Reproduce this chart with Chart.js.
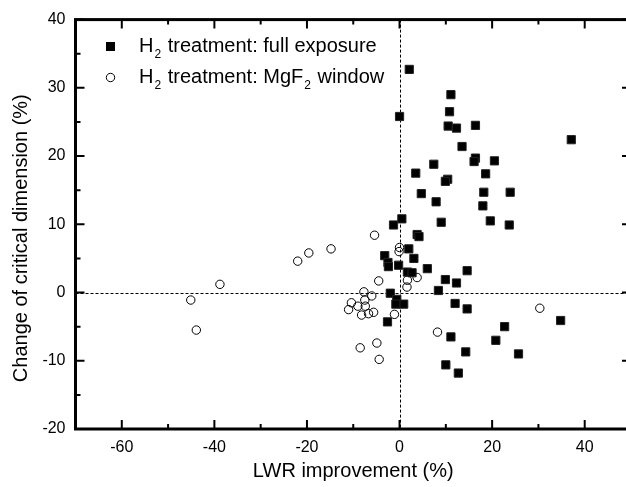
<!DOCTYPE html>
<html>
<head>
<meta charset="utf-8">
<script src="https://cdn.jsdelivr.net/npm/chart.js@4.4.0/dist/chart.umd.min.js"></script>
<style>
    html, body { margin: 0; padding: 0; background: #fff; overflow: hidden; }
    #quadro { width: 626px; height: 487px; overflow: hidden; }
</style>
</head>
<body>
<div id="quadro"><canvas id="lwrChart" width="640" height="487"></canvas></div>
<script>
// --- Dados ---
// Tratamento H2: exposição completa (quadrados cheios)
const fullExposureX = [2.1, 11.1, 10.8, 0.0, 10.5, 12.3, 16.4, 37.1, 13.5, 16.4, 16.1, 20.5, 7.4, 3.5, 18.6,
    10.4, 9.9, 4.7, 18.2, 23.9, 7.9, 18.0, 0.5, -1.3, 9.0, 19.6, 23.7, 3.8, 4.2, 2.0,
    3.1, -3.2, -2.5, -2.4, -0.2, 1.7, 2.7, 6.0, 14.6, 9.9, 12.3, 8.4, -2.0, -0.6, 0.9,
    -0.8, -2.6, 12.0, 14.6, 34.8, 22.7, 11.1, 20.8, 14.3, 25.7, 10.0, 12.7];
const fullExposureY = [32.7, 29.0, 26.5, 25.8, 24.4, 24.1, 24.5, 22.4, 21.4, 19.7, 19.2, 19.3, 18.8, 17.5, 17.4,
    16.6, 16.3, 14.5, 14.7, 14.7, 13.3, 12.7, 10.8, 9.9, 10.3, 10.5, 9.9, 8.5, 8.2, 6.4,
    5.0, 5.4, 4.4, 3.8, 4.0, 3.0, 2.9, 3.5, 3.2, 1.9, 1.4, 0.3, -0.1, -1.0, -1.7,
    -1.7, -4.3, -1.6, -2.4, -4.1, -5.0, -6.5, -7.0, -8.7, -9.0, -10.6, -11.8];

// Tratamento H2: janela de MgF2 (círculos abertos)
const mgf2X = [-45.1, -43.9, -38.8, -22.0, -19.6, -14.8, -5.4, 0.0, -0.1, 1.7, 1.6, 3.8, -4.5, -7.7,
    -6.0, -10.4, -7.5, -9.0, -7.4, -11.0, -8.2, -6.7, -5.6, -1.1, -4.9, -8.5, -4.4, 30.3, 8.2];
const mgf2Y = [-1.1, -5.5, 1.2, 4.6, 5.8, 6.4, 8.4, 6.6, 6.0, 1.8, 0.8, 2.2, 1.7, 0.1,
    -0.5, -1.5, -1.1, -2.0, -2.0, -2.5, -3.3, -3.1, -2.9, -3.2, -7.4, -8.1, -9.8, -2.3, -5.8];

// Rótulos dos eixos
const xTickLabels = [-60, -40, -20, 0, 20, 40];
const yTickLabels = [-20, -10, 0, 10, 20, 30, 40];

const FONTE = '"Liberation Sans", Arial, sans-serif';

// Plugin para moldura, marcas internas, linhas tracejadas no zero e legenda
const molduraPlugin = {
    id: 'moldura',
    beforeDatasetsDraw(chart) {
        const { ctx, chartArea: a, scales: { x, y } } = chart;
        ctx.save();
        ctx.strokeStyle = '#000';
        ctx.lineWidth = 1;
        ctx.setLineDash([3, 2]);
        const x0 = Math.round(x.getPixelForValue(0)) + 0.5;
        const y0 = Math.round(y.getPixelForValue(0)) + 0.5;
        ctx.beginPath();
        ctx.moveTo(x0, a.top);
        ctx.lineTo(x0, a.bottom);
        ctx.moveTo(a.left, y0);
        ctx.lineTo(a.right, y0);
        ctx.stroke();
        ctx.restore();
    },
    afterDraw(chart) {
        const { ctx, chartArea: a, scales: { x, y } } = chart;
        ctx.save();
        ctx.strokeStyle = '#000';

        // marcas dos eixos (para dentro)
        ctx.lineWidth = 2;
        ctx.beginPath();
        x.ticks.forEach(t => {
            const px = x.getPixelForValue(t.value);
            const len = (t.value % 20 === 0) ? 9 : 5;
            ctx.moveTo(px, a.bottom); ctx.lineTo(px, a.bottom - len);
            ctx.moveTo(px, a.top); ctx.lineTo(px, a.top + len);
        });
        y.ticks.forEach((t, i) => {
            const py = y.getPixelForValue(t.value);
            ctx.moveTo(a.left, py); ctx.lineTo(a.left + 9, py);
            ctx.moveTo(a.right, py); ctx.lineTo(a.right - 9, py);
            if (i < y.ticks.length - 1) {
                const pm = y.getPixelForValue(t.value + 5);
                ctx.moveTo(a.left, pm); ctx.lineTo(a.left + 5, pm);
                ctx.moveTo(a.right, pm); ctx.lineTo(a.right - 5, pm);
            }
        });
        ctx.stroke();

        // moldura
        ctx.lineWidth = 3;
        ctx.strokeRect(a.left, a.top, a.right - a.left, a.bottom - a.top);

        // legenda
        const itens = [
            { estilo: 'rect', partes: [['H', false], ['2', true], [' treatment: full exposure', false]] },
            { estilo: 'circle', partes: [['H', false], ['2', true], [' treatment: MgF', false], ['2', true], [' window', false]] }
        ];
        const mx = 110.5, tx = 139, y1 = 46.5, dy = 31;
        ctx.textBaseline = 'middle';
        ctx.textAlign = 'left';
        ctx.fillStyle = '#000';
        itens.forEach((item, i) => {
            const yy = y1 + i * dy;
            if (item.estilo === 'rect') {
                ctx.fillRect(mx - 4.5, yy - 4.5, 9, 9);
            } else {
                ctx.lineWidth = 1;
                ctx.beginPath();
                ctx.arc(mx, yy, 4.2, 0, Math.PI * 2);
                ctx.stroke();
            }
            let cx = tx;
            item.partes.forEach(([txt, sub]) => {
                ctx.font = (sub ? '12px ' : '20px ') + FONTE;
                ctx.fillText(txt, cx + (sub ? 1 : 0), yy + (sub ? 8 : 0));
                cx += ctx.measureText(txt).width + (sub ? 2 : 0);
            });
        });
        ctx.restore();
    }
};

const ctx = document.getElementById('lwrChart').getContext('2d');

new Chart(ctx, {
    type: 'scatter',
    data: {
        datasets: [
            {
                label: 'H2 treatment: full exposure',
                data: fullExposureX.map((v, i) => ({ x: v, y: fullExposureY[i] })),
                pointStyle: 'rect',
                pointRadius: 5.8,
                backgroundColor: '#000',
                borderColor: '#222',
                borderWidth: 1
            },
            {
                label: 'H2 treatment: MgF2 window',
                data: mgf2X.map((v, i) => ({ x: v, y: mgf2Y[i] })),
                pointStyle: 'circle',
                pointRadius: 4.2,
                backgroundColor: 'rgba(0,0,0,0)',
                borderColor: '#000',
                borderWidth: 1
            }
        ]
    },
    options: {
        responsive: false,
        animation: false,
        devicePixelRatio: 1,
        layout: { padding: { left: 0, top: 19, right: 6, bottom: 0 } },
        plugins: {
            legend: { display: false },
            tooltip: { enabled: false }
        },
        scales: {
            x: {
                type: 'linear',
                min: -70,
                max: 50,
                grid: { display: false, drawTicks: false },
                border: { display: false },
                ticks: {
                    stepSize: 10,
                    padding: 9,
                    autoSkip: false,
                    maxRotation: 0,
                    color: '#000',
                    font: { size: 16, family: FONTE },
                    callback: v => xTickLabels.includes(v) ? String(v) : ''
                },
                title: {
                    display: true,
                    text: 'LWR improvement (%)',
                    color: '#000',
                    font: { size: 20, family: FONTE },
                    padding: { top: 0, bottom: 4 }
                },
                afterFit(s) { s.height = 58; }
            },
            y: {
                type: 'linear',
                min: -20,
                max: 40,
                grid: { display: false, drawTicks: false },
                border: { display: false },
                ticks: {
                    stepSize: 10,
                    padding: 10,
                    autoSkip: false,
                    color: '#000',
                    font: { size: 16, family: FONTE },
                    callback: v => yTickLabels.includes(v) ? String(v) : ''
                },
                title: {
                    display: true,
                    // espaços no fim deslocam o título para baixo, como no original
                    text: 'Change of critical dimension (%)\u00a0\u00a0\u00a0\u00a0\u00a0',
                    color: '#000',
                    font: { size: 20, family: FONTE },
                    padding: { top: 9, bottom: 0 }
                },
                afterFit(s) { s.width = 75.5; }
            }
        }
    },
    plugins: [molduraPlugin]
});
</script>
</body>
</html>
